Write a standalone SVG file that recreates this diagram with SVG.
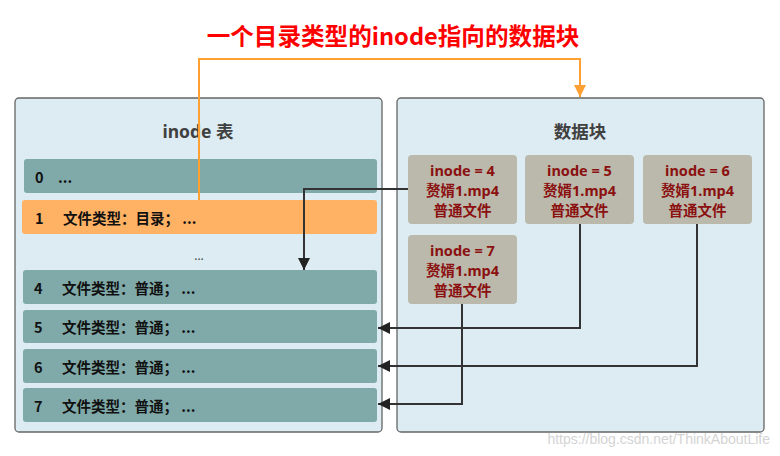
<svg xmlns="http://www.w3.org/2000/svg" width="780" height="456" viewBox="0 0 780 456">
<style>
.panel{fill:#DDEBF2;stroke:#666;stroke-width:1.3}
.row{fill:#7FAAA9}
.rowo{fill:#FFB264}
.box{fill:#BAB9AB}
.rt{font-family:"Noto Sans CJK SC","Noto Sans",sans-serif;font-size:14.5px;font-weight:bold;fill:#111;dominant-baseline:central}
.bt{font-family:"Noto Sans","Noto Sans CJK SC",sans-serif;font-size:14.5px;font-weight:bold;fill:#8B1010;text-anchor:middle;dominant-baseline:central}
.pt{font-family:"Noto Sans","Noto Sans CJK SC",sans-serif;font-size:17.5px;font-weight:bold;fill:#404040;text-anchor:middle;dominant-baseline:central}
.ln{fill:none;stroke:#333;stroke-width:2}
</style>
<defs>
<marker id="ah" viewBox="0 0 10 10" refX="10" refY="5" markerWidth="6" markerHeight="6" orient="auto" markerUnits="strokeWidth"><path d="M0,0 L10,5 L0,10 Z" fill="#222"/></marker>
<marker id="ao" viewBox="0 0 10 10" refX="10" refY="5" markerWidth="6" markerHeight="6" orient="auto" markerUnits="strokeWidth"><path d="M0,0 L10,5 L0,10 Z" fill="#FFA033"/></marker>
</defs>
<rect width="780" height="456" fill="#fff"/>
<text x="393" y="35" text-anchor="middle" dominant-baseline="central" font-family="Noto Sans CJK SC,Noto Sans,sans-serif" font-size="23.6" font-weight="bold" fill="#FF0000">一个目录类型的inode指向的数据块</text>
<g id="inode-table">
<rect class="panel" x="15" y="98" width="367" height="334" rx="4"/>
<text class="pt" x="198" y="131">inode 表</text>
</g>
<g id="data-blocks">
<rect class="panel" x="397" y="98" width="367" height="334" rx="4"/>
<text class="pt" x="580" y="131">数据块</text>
</g>
<g id="row0"><rect class="row" x="24" y="159" width="353" height="34" rx="3"/><text class="rt" x="35" y="176">0</text><text class="rt" x="58" y="176">...</text></g>
<g id="row1"><rect class="rowo" x="22" y="200" width="355" height="34" rx="3"/><text class="rt" x="35" y="217">1</text><text class="rt" x="63" y="217">文件类型：目录；  ...</text></g>
<g id="rowdots"><text x="199" y="255" text-anchor="middle" dominant-baseline="central" font-family="Noto Sans,sans-serif" font-size="12" fill="#444">...</text></g>
<g id="row4"><rect class="row" x="23" y="270" width="354" height="34" rx="3"/><text class="rt" x="34" y="287">4</text><text class="rt" x="62" y="287">文件类型：普通；  ...</text></g>
<g id="row5"><rect class="row" x="23" y="310" width="354" height="33" rx="3"/><text class="rt" x="34" y="326.5">5</text><text class="rt" x="62" y="326.5">文件类型：普通；  ...</text></g>
<g id="row6"><rect class="row" x="23" y="349" width="354" height="34" rx="3"/><text class="rt" x="34" y="366">6</text><text class="rt" x="62" y="366">文件类型：普通；  ...</text></g>
<g id="row7"><rect class="row" x="23" y="388" width="354" height="34" rx="3"/><text class="rt" x="34" y="405">7</text><text class="rt" x="62" y="405">文件类型：普通；  ...</text></g>
<g id="blk4"><rect class="box" x="408" y="155" width="109" height="69" rx="4"/><text class="bt" x="462.5" y="170">inode = 4</text><text class="bt" x="462.5" y="190">赘婿1.mp4</text><text class="bt" x="462.5" y="210">普通文件</text></g>
<g id="blk5"><rect class="box" x="525" y="155" width="109" height="69" rx="4"/><text class="bt" x="579.5" y="170">inode = 5</text><text class="bt" x="579.5" y="190">赘婿1.mp4</text><text class="bt" x="579.5" y="210">普通文件</text></g>
<g id="blk6"><rect class="box" x="643" y="155" width="109" height="69" rx="4"/><text class="bt" x="697.5" y="170">inode = 6</text><text class="bt" x="697.5" y="190">赘婿1.mp4</text><text class="bt" x="697.5" y="210">普通文件</text></g>
<g id="blk7"><rect class="box" x="408" y="235" width="109" height="69" rx="4"/><text class="bt" x="462.5" y="250">inode = 7</text><text class="bt" x="462.5" y="270">赘婿1.mp4</text><text class="bt" x="462.5" y="290">普通文件</text></g>
<g id="connectors">
<path d="M199,200 V59 H580 V97" fill="none" stroke="#FFA033" stroke-width="2" marker-end="url(#ao)"/>
<path class="ln" d="M408,189 H304 V270" marker-end="url(#ah)"/>
<path class="ln" d="M580,224 V328 H378" marker-end="url(#ah)"/>
<path class="ln" d="M697,224 V366 H378" marker-end="url(#ah)"/>
<path class="ln" d="M462,304 V404 H378" marker-end="url(#ah)"/>
</g>
<text x="770" y="439" text-anchor="end" dominant-baseline="central" font-family="Liberation Sans,Arial,sans-serif" font-size="14" fill="#D4D4D4">https://blog.csdn.net/ThinkAboutLife</text>
</svg>
